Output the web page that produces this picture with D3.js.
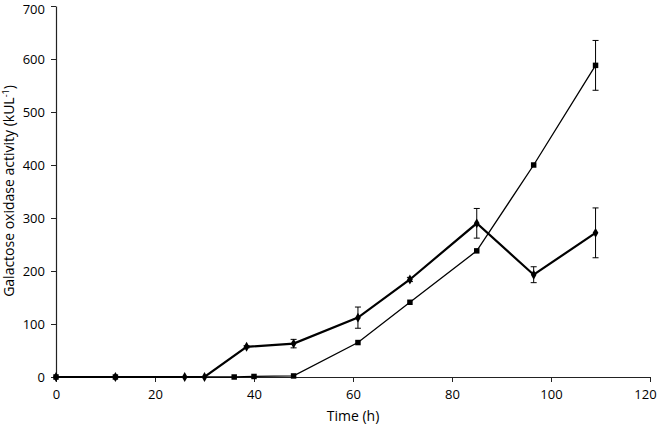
<!DOCTYPE html>
<html><head><meta charset="utf-8">
<script src="https://cdn.jsdelivr.net/npm/d3@7"></script>
<style>body{margin:0;background:#fff}svg{display:block}text{font-family:"Open Sans","Liberation Sans",sans-serif;fill:#000}</style>
</head><body><svg id="c" width="660" height="426"></svg>
<script>
const diamondTime = [0, 12, 26, 30, 38.5, 48, 61, 71.5, 85, 96.5, 109];
const diamondValue = [0, 0, 0, 0, 57, 63, 112, 184, 290, 193, 272];
const diamondErr = [0, 0, 0, 0, 2, 8, 20, 4, 28, 15, 47];
const squareTime = [0, 12, 36, 40, 48, 61, 71.5, 85, 96.5, 109];
const squareValue = [0, 0, 0, 1, 2, 65, 141, 238, 400, 588];
const squareErr = [0, 0, 0, 0, 0, 0, 0, 0, 0, 47];
const xTicks = [0, 20, 40, 60, 80, 100, 120];
const yTicks = [0, 100, 200, 300, 400, 500, 600, 700];

const svg = d3.select("#c");
const x = d3.scaleLinear().domain([0, 120]).range([56, 650]);
const y = d3.scaleLinear().domain([0, 700]).range([377, 6]);

const ax = svg.append("g").attr("transform", "translate(0,377)")
  .call(d3.axisBottom(x).tickValues(xTicks).tickSize(5).tickPadding(8).tickSizeOuter(0));
const ay = svg.append("g").attr("transform", "translate(56,0)")
  .call(d3.axisLeft(y).tickValues(yTicks).tickSize(5).tickPadding(6).tickSizeOuter(0));
[ax, ay].forEach(g => {
  g.select(".domain").attr("stroke", "#222").attr("stroke-width", 1.2);
  g.selectAll(".tick line").attr("stroke", "#222");
  g.selectAll(".tick text").attr("font-size", 13).attr("fill", "#000");
});
ax.selectAll(".tick text").filter(d => d === 120).attr("dx", -5);
ay.selectAll(".tick text").filter(d => d === 700).attr("dy", "0.6em");

function series(t, v, e, sw, shape, size) {
  const data = t.map((d, i) => ({t: d, v: v[i], e: e[i]}));
  const line = d3.line().x(d => x(d.t)).y(d => y(d.v));
  svg.append("path").datum(data).attr("d", line).attr("fill", "none")
    .attr("stroke", "#000").attr("stroke-width", sw);
  const eb = svg.append("g").attr("stroke", "#000").attr("stroke-width", 1);
  data.filter(d => d.e > 0).forEach(d => {
    eb.append("line").attr("x1", x(d.t)).attr("x2", x(d.t)).attr("y1", y(d.v - d.e)).attr("y2", y(d.v + d.e));
    [d.v - d.e, d.v + d.e].forEach(val => eb.append("line")
      .attr("x1", x(d.t) - 3).attr("x2", x(d.t) + 3).attr("y1", y(val)).attr("y2", y(val)));
  });
  svg.append("g").selectAll("path").data(data).join("path")
    .attr("transform", d => `translate(${x(d.t)},${y(d.v)})`)
    .attr("d", d3.symbol().type(shape).size(size)).attr("fill", "#000");
}
series(squareTime, squareValue, squareErr, 1.3, d3.symbolSquare, 30);
series(diamondTime, diamondValue, diamondErr, 2.2, d3.symbolDiamond, 28);

svg.append("text").attr("x", 353).attr("y", 421).attr("text-anchor", "middle")
  .attr("font-size", 14).text("Time (h)");
const yl = svg.append("text").attr("transform", "translate(14,191) rotate(-90)")
  .attr("text-anchor", "middle").attr("font-size", 14);
yl.append("tspan").text("Galactose oxidase activity (kUL");
yl.append("tspan").attr("font-size", 9).attr("dy", -5).text("-1");
yl.append("tspan").attr("dy", 5).text(")");
</script></body></html>
